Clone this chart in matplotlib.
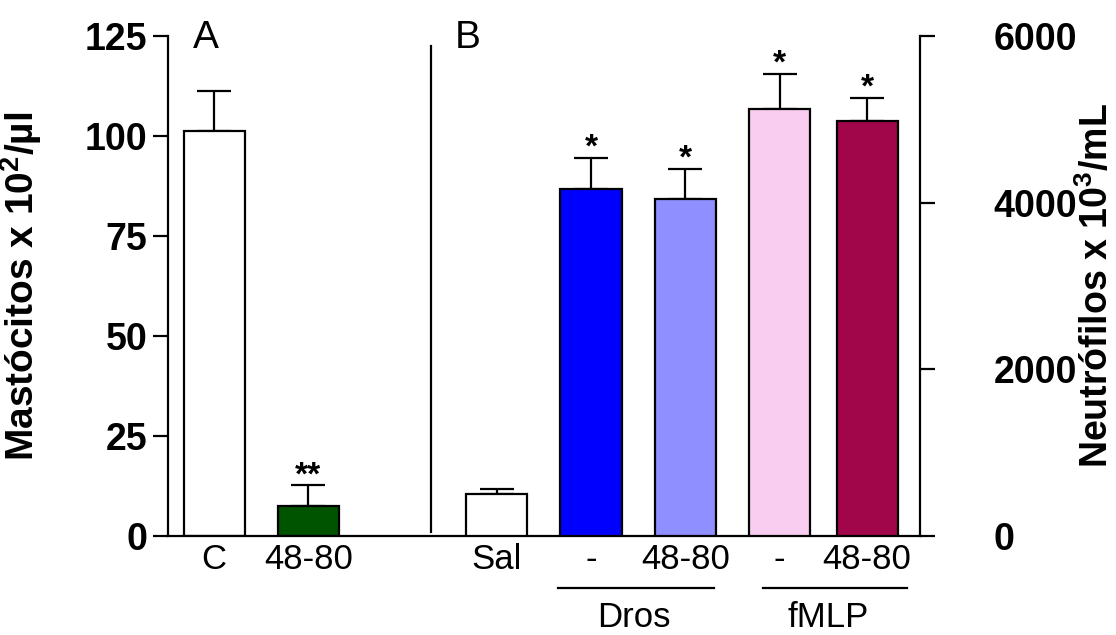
import matplotlib
matplotlib.use("Agg")
import matplotlib.pyplot as plt

plt.rcParams['font.family'] = ['Liberation Sans', 'DejaVu Sans']
plt.rcParams['mathtext.fontset'] = 'custom'
plt.rcParams['mathtext.rm'] = 'Liberation Sans'
plt.rcParams['mathtext.bf'] = 'Liberation Sans:bold'

# painel A (mastócitos, eixo esquerdo)
grupos_a = ["C", "48-80"]
masto = [101.2, 7.5]
masto_err = [10.1, 5.2]
cores_a = ["white", "#005400"]
sig_a = ["", "**"]

# painel B (neutrófilos, eixo direito)
grupos_b = ["Sal", "-", "48-80", "-", "48-80"]
neutro = [500, 4160, 4050, 5120, 4980]
neutro_err = [70, 380, 360, 430, 280]
cores_b = ["white", "#0000ff", "#8f8fff", "#f8cdef", "#a1054a"]
sig_b = ["", "*", "*", "*", "*"]

pos_a = [0, 1]
pos_b = [3, 4, 5, 6, 6.93]
larg = 0.65

fig = plt.figure(figsize=(11.16, 6.35), dpi=100)
ax = fig.add_axes([0.1505, 0.1559, 0.6738, 0.7874])
ax2 = ax.twinx()

ax.bar(pos_a, masto, larg, color=cores_a, edgecolor="black", linewidth=1.6, zorder=2)
ax.errorbar(pos_a, masto, yerr=[[0, 0], masto_err], fmt="none", ecolor="black",
            elinewidth=1.6, capsize=12, capthick=1.6, zorder=1)
for x, v, e, s in zip(pos_a, masto, masto_err, sig_a):
    if s:
        ax.text(x, v + e + 2.2, s, ha="center", va="center", fontsize=24, fontweight="bold")

ax2.bar(pos_b, neutro, larg, color=cores_b, edgecolor="black", linewidth=1.6, zorder=2)
ax2.errorbar(pos_b, neutro, yerr=[[0] * 5, neutro_err], fmt="none", ecolor="black",
             elinewidth=1.6, capsize=12, capthick=1.6, zorder=1)
for x, v, e, s in zip(pos_b, neutro, neutro_err, sig_b):
    if s:
        ax2.text(x, v + e + 110, s, ha="center", va="center", fontsize=24, fontweight="bold")

ax.set_xlim(-0.49, 7.49)
ax.set_ylim(0, 125)
ax2.set_ylim(0, 6000)
ax.set_yticks([0, 25, 50, 75, 100, 125])
ax2.set_yticks([0, 2000, 4000, 6000])

# linha divisória entre A e B
ax.plot([2.3, 2.3], [1, 122.5], color="black", lw=1.6)

ax.text(-0.09, 124.5, "A", ha="center", va="center", fontsize=28)
ax.text(2.69, 124.5, "B", ha="center", va="center", fontsize=28)

ax.set_xticks(pos_a + pos_b)
ax.set_xticklabels(grupos_a + grupos_b, fontsize=25)
ax.tick_params(axis="x", length=0, pad=5)
ax.tick_params(axis="y", length=11, width=1.6, labelsize=27, pad=4)
ax2.tick_params(axis="y", length=11, width=1.6, labelsize=27, pad=42)
for t in ax.get_yticklabels() + ax2.get_yticklabels():
    t.set_fontweight("bold")

for s in ["top", "right"]:
    ax.spines[s].set_visible(False)
for s in ["top", "left", "bottom"]:
    ax2.spines[s].set_visible(False)
ax.spines["left"].set_linewidth(1.6)
ax.spines["bottom"].set_linewidth(1.6)
ax2.spines["right"].set_linewidth(1.6)

ax.set_ylabel(r"Mastócitos x 10$^{\mathbf{2}}$/µl", fontsize=28, fontweight="bold")
ax.yaxis.set_label_coords(-0.165, 0.5)
ax2.set_ylabel(r"Neutrófilos x 10$^{\mathbf{3}}$/mL", fontsize=27, fontweight="bold")
ax2.yaxis.set_label_coords(1.21, 0.5)

# grupos Dros e fMLP
tr = ax.get_xaxis_transform()
ax.plot([3.65, 5.3], [-0.104, -0.104], color="black", lw=1.6, transform=tr, clip_on=False)
ax.plot([5.82, 7.35], [-0.104, -0.104], color="black", lw=1.6, transform=tr, clip_on=False)
ax.text(4.45, -0.163, "Dros", ha="center", va="center", fontsize=25, transform=tr)
ax.text(6.52, -0.163, "fMLP", ha="center", va="center", fontsize=25, transform=tr)

fig.savefig("out.png", dpi=100)
